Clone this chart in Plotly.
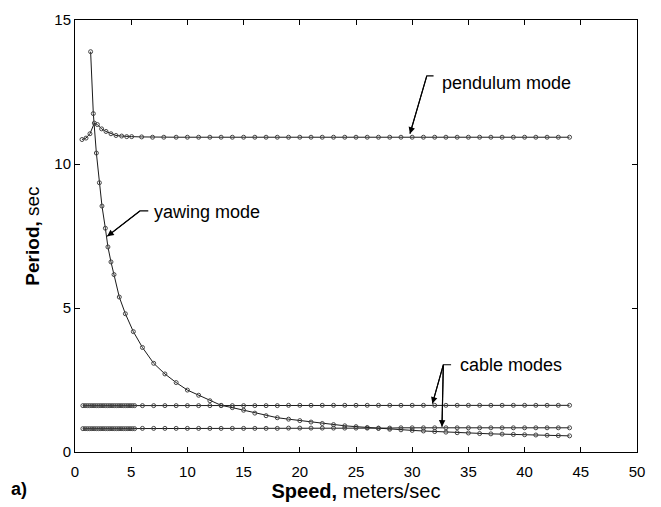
import plotly.graph_objects as go

# ---- data ----
pend_speed = [0.62, 0.98, 1.33, 1.72, 1.99, 2.37, 2.76, 3.2, 3.65, 4.15, 4.6, 5.04, 5.93, 6.9, 7.9,
              9, 10, 11, 12, 13, 14, 15, 16, 17, 18, 19, 20, 21, 22, 23, 24, 25, 26, 27, 28, 29, 30,
              31, 32, 33, 34, 35, 36, 37, 38, 39, 40, 41, 42, 43, 44]
pend_period = [10.85, 10.90, 11.05, 11.42, 11.37, 11.22, 11.13, 11.05, 10.99, 10.97, 10.95, 10.95, 10.94, 10.93, 10.93,
               10.93, 10.93, 10.93, 10.93, 10.93, 10.93, 10.93, 10.93, 10.93, 10.93, 10.93, 10.93, 10.93, 10.93, 10.93,
               10.93, 10.93, 10.93, 10.93, 10.93, 10.93, 10.93, 10.93, 10.93, 10.93, 10.93, 10.93, 10.93, 10.93, 10.93,
               10.93, 10.93, 10.93, 10.93, 10.93, 10.93]

yaw_speed = [1.39, 1.63, 1.9, 2.17, 2.4, 2.7, 2.93, 3.2, 3.47, 3.94, 4.48, 5.19,
             6, 7, 8, 9, 10, 11, 12, 13, 14, 15, 16, 17, 18, 19, 20, 21, 22, 23, 24, 25, 26, 27, 28,
             29, 30, 31, 32, 33, 34, 35, 36, 37, 38, 39, 40, 41, 42, 43, 44]
yaw_period = [13.9, 11.75, 10.38, 9.35, 8.54, 7.77, 7.12, 6.6, 6.16, 5.38, 4.8, 4.18,
              3.63, 3.08, 2.71, 2.41, 2.15, 1.97, 1.78, 1.62, 1.54, 1.45, 1.35, 1.26, 1.19, 1.14, 1.09,
              1.04, 0.99, 0.95, 0.91, 0.88, 0.85, 0.82, 0.79, 0.77, 0.75, 0.73, 0.71, 0.69, 0.67,
              0.66, 0.64, 0.63, 0.62, 0.61, 0.60, 0.59, 0.58, 0.57, 0.56]

cable_speed = [0.7, 0.9, 1.1, 1.3, 1.5, 1.7, 1.9, 2.1, 2.3, 2.5, 2.7, 2.9, 3.1, 3.3, 3.5, 3.7, 3.9,
               4.1, 4.3, 4.5, 4.7, 4.9, 5.1, 5.3,
               6, 7, 8, 9, 10, 11, 12, 13, 14, 15, 16, 17, 18, 19, 20, 21, 22, 23, 24, 25, 26, 27, 28,
               29, 30, 31, 32, 33, 34, 35, 36, 37, 38, 39, 40, 41, 42, 43, 44]
cable1_period = [1.61, 1.61, 1.61, 1.61, 1.61, 1.61, 1.61, 1.61, 1.61, 1.61, 1.61, 1.61, 1.61, 1.61,
                 1.61, 1.61, 1.61, 1.61, 1.61, 1.61, 1.61, 1.61, 1.61, 1.61,
                 1.61, 1.61, 1.61, 1.61, 1.61, 1.61, 1.61, 1.61, 1.61, 1.61, 1.61, 1.61, 1.61, 1.62,
                 1.62, 1.62, 1.62, 1.62, 1.62, 1.62, 1.62, 1.62, 1.62, 1.62, 1.62, 1.62, 1.62, 1.62,
                 1.62, 1.62, 1.62, 1.62, 1.62, 1.62, 1.62, 1.62, 1.62, 1.62, 1.62]
cable2_period = [0.81, 0.81, 0.81, 0.81, 0.81, 0.81, 0.81, 0.81, 0.81, 0.81, 0.81, 0.81, 0.81, 0.81,
                 0.81, 0.81, 0.81, 0.81, 0.81, 0.81, 0.81, 0.81, 0.81, 0.81,
                 0.82, 0.82, 0.82, 0.82, 0.82, 0.82, 0.82, 0.82, 0.82, 0.82, 0.82, 0.82, 0.82, 0.83,
                 0.83, 0.83, 0.83, 0.83, 0.83, 0.83, 0.83, 0.83, 0.83, 0.84, 0.84, 0.84, 0.84, 0.84,
                 0.84, 0.84, 0.84, 0.84, 0.84, 0.84, 0.84, 0.84, 0.84, 0.84, 0.84]

x_ticks = [0, 5, 10, 15, 20, 25, 30, 35, 40, 45, 50]
y_ticks = [0, 5, 10, 15]

# annotation callouts: label text, text anchor, leader polyline (tick end, tail, head...)
callout_text = ["pendulum mode", "yawing mode", "cable modes"]
callout_pos = [(32.45, 12.8), (6.85, 8.33), (34.05, 3.03)]
leader_x = [[31.9, 31.3, 29.8], [6.52, 5.78, 2.87], [33.46, 32.77, 31.8, None, 32.77, 32.65]]
leader_y = [[13.06, 13.06, 11.05], [8.37, 8.37, 7.49], [3.03, 3.03, 1.68, None, 3.03, 0.88]]

FONT = "Liberation Sans, Arial, Helvetica, sans-serif"
LINE = "#1a1a1a"
MARK = "#444444"

fig = go.Figure()
for xs, ys in [(cable_speed, cable2_period), (cable_speed, cable1_period),
               (yaw_speed, yaw_period), (pend_speed, pend_period)]:
    fig.add_trace(go.Scatter(
        x=xs, y=ys, mode="lines+markers",
        line=dict(color=LINE, width=1),
        marker=dict(symbol="circle-open", size=4, color=MARK, line=dict(width=1, color=MARK)),
        showlegend=False, hoverinfo="skip"))

# leader lines
for lx, ly in zip(leader_x, leader_y):
    fig.add_trace(go.Scatter(x=lx, y=ly, mode="lines", line=dict(color="black", width=1.2),
                             connectgaps=False, showlegend=False, hoverinfo="skip"))

# text labels
for txt, (lx, ly) in zip(callout_text, callout_pos):
    fig.add_annotation(x=lx, y=ly, xref="x", yref="y", text=txt, showarrow=False,
                       xanchor="left", yanchor="middle",
                       font=dict(family=FONT, size=18, color="black"))

# arrowheads at the end of each leader
for lx, ly in zip(leader_x, leader_y):
    segs = []
    cur = []
    for a, b in zip(lx, ly):
        if a is None:
            segs.append(cur)
            cur = []
        else:
            cur.append((a, b))
    segs.append(cur)
    for seg in segs:
        (tx, ty), (hx, hy) = seg[-2], seg[-1]
        fig.add_annotation(x=hx, y=hy, ax=tx, ay=ty, xref="x", yref="y", axref="x", ayref="y",
                           text=" ", font=dict(size=1), showarrow=True, arrowhead=2, arrowsize=1.3,
                           arrowwidth=1, arrowcolor="black", standoff=0, startstandoff=0, borderpad=0)

fig.add_annotation(x=-0.10, y=-0.085, xref="paper", yref="paper", text="<b>a)</b>",
                   showarrow=False, xanchor="center", yanchor="middle",
                   font=dict(family=FONT, size=18, color="black"))

fig.update_xaxes(range=[0, 50], tickvals=x_ticks, ticks="inside", ticklen=5, tickcolor="black",
                 showline=True, linecolor="black", linewidth=1, mirror="ticks", showgrid=False,
                 zeroline=False, tickfont=dict(family=FONT, size=15, color="black"),
                 ticklabelstandoff=6,
                 title=dict(text="<b>Speed,</b> meters/sec", font=dict(family=FONT, size=20, color="black"),
                            standoff=2))
fig.update_yaxes(range=[0, 15], tickvals=y_ticks, ticks="inside", ticklen=5, tickcolor="black",
                 showline=True, linecolor="black", linewidth=1, mirror="ticks", showgrid=False,
                 zeroline=False, tickfont=dict(family=FONT, size=15, color="black"),
                 title=dict(text="<b>Period,</b> sec", font=dict(family=FONT, size=19, color="black"),
                            standoff=9))

fig.update_layout(width=661, height=507, margin=dict(l=75, r=24, t=11, b=53),
                  paper_bgcolor="white", plot_bgcolor="white",
                  font=dict(family=FONT, color="black"))

fig.write_html("out.html")
